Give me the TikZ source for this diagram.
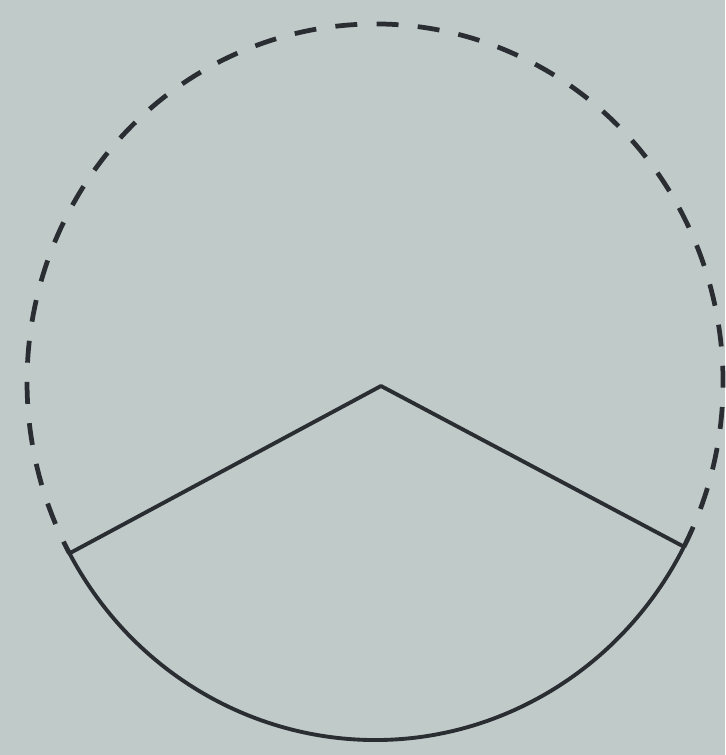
\documentclass[tikz,border=0pt]{standalone}
\usepackage{tikz}
\definecolor{SKpaper}{RGB}{192,202,201}
\definecolor{SKink}{RGB}{42,46,50}
\tikzset{
  rim/.style={draw=SKink,line width=2.2pt,line cap=round,line join=round},
  rimdash/.style={draw=SKink,line width=2.7pt,dash pattern=on 12.5pt off 11pt},
}
\begin{document}
\begin{tikzpicture}[x=0.02cm,y=0.02cm]
  % sheet and its margins
  \fill[SKpaper] (0,0) rectangle (725,755);
  \useasboundingbox (0,0) rectangle (725,755);
  \coordinate (o) at (375,373);
  \coordinate (apex) at (381,369);
  \path (o) ++(208.6:348 and 358) coordinate (lft);
  \path (o) ++(-27.4:348 and 358) coordinate (rgt);
  % upper part of the rim, dashed
  \draw[rimdash] (rgt) arc[start angle=-27.4,end angle=208.6,x radius=348,y radius=358];
  % sector: lower arc and the two radii
  \draw[rim] (lft) arc[start angle=208.6,end angle=332.6,x radius=348,y radius=358];
  \draw[rim] (lft) -- (apex) -- (rgt);
\end{tikzpicture}
\end{document}
